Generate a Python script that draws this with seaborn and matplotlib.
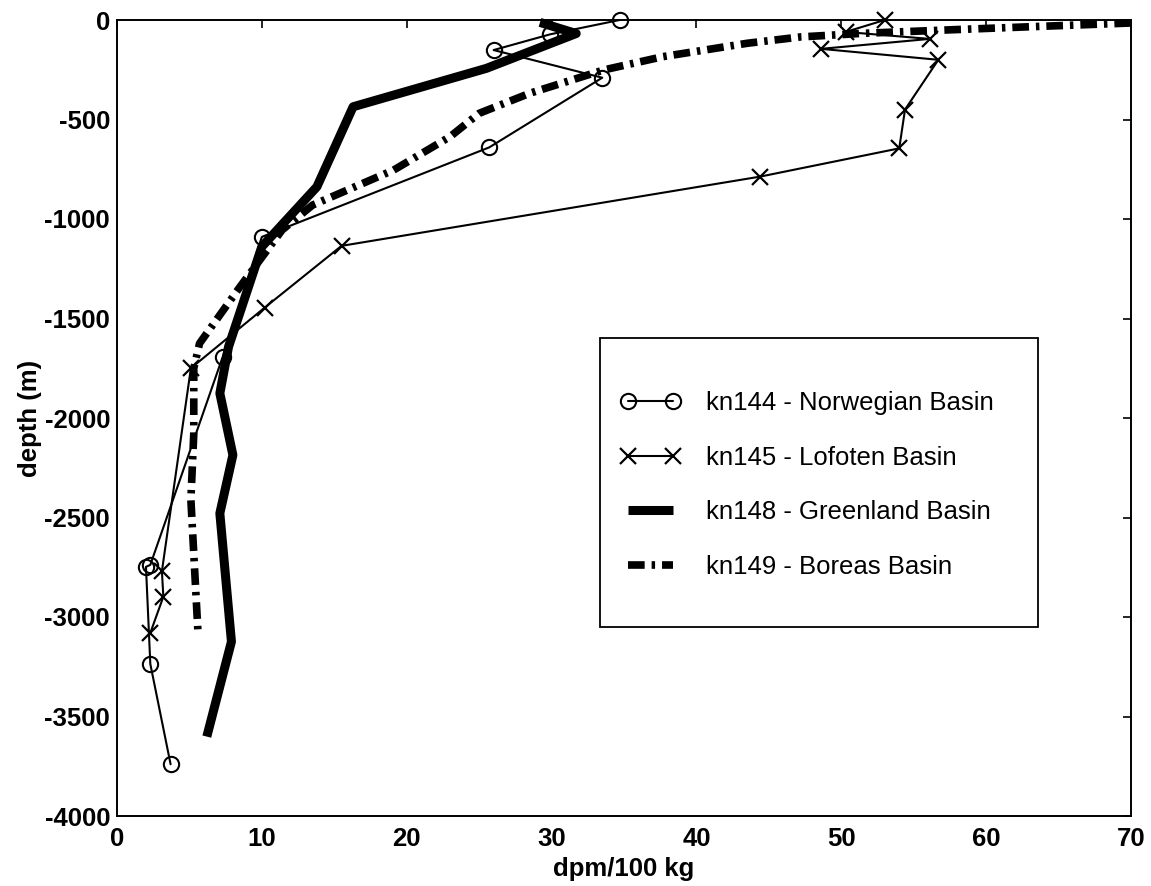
import matplotlib
matplotlib.use("Agg")
import matplotlib.pyplot as plt
import seaborn as sns
from matplotlib.patches import Rectangle

# ---- data ----
kn144_dpm = [34.7, 29.9, 26.0, 33.5, 25.7, 10.0, 7.3, 2.3, 2.0, 2.3, 3.7]
kn144_depth = [0, -72, -151, -290, -640, -1090, -1692, -2738, -2748, -3236, -3740]

kn145_dpm = [53.0, 50.3, 56.1, 48.6, 56.7, 54.4, 54.0, 44.4, 15.5, 10.2, 5.1, 3.1, 3.2, 2.3]
kn145_depth = [0, -60, -95, -145, -200, -450, -645, -787, -1135, -1445, -1750, -2770, -2898, -3080]

kn148_dpm = [29.2, 31.7, 25.5, 16.3, 13.8, 10.0, 7.7, 7.1, 8.0, 7.1, 7.9, 6.2]
kn148_depth = [-12, -68, -243, -436, -838, -1139, -1642, -1876, -2186, -2479, -3124, -3601]

kn149_dpm = [70.0, 63.0, 57.3, 51.5, 47.2, 43.5, 37.7, 33.6, 28.5, 25.0, 23.0,
             19.1, 13.5, 11.4, 8.5, 5.7, 5.3, 5.3, 5.1, 5.6]
kn149_depth = [-15, -34, -50, -67, -85, -117, -184, -251, -368, -469, -586,
               -754, -930, -1055, -1340, -1625, -1750, -2080, -2410, -3090]

labels = ["kn144 - Norwegian Basin", "kn145 - Lofoten Basin",
          "kn148 - Greenland Basin", "kn149 - Boreas Basin"]
x_ticks = list(range(0, 71, 10))
y_ticks = list(range(-4000, 1, 500))

# ---- style ----
sns.set_style("white")
plt.rcParams['font.family'] = ['Liberation Sans', 'DejaVu Sans']
plt.rcParams['lines.scale_dashes'] = False
plt.rcParams['axes.unicode_minus'] = False
plt.rcParams['text.color'] = 'black'
plt.rcParams['axes.labelcolor'] = 'black'
plt.rcParams['xtick.color'] = 'black'
plt.rcParams['ytick.color'] = 'black'

W, H = 1151, 886
fig = plt.figure(figsize=(W / 100, H / 100), dpi=100)
ax = fig.add_axes([117 / W, 1 - 816 / H, 1014 / W, 796 / H])

common = dict(sort=False, estimator=None, ax=ax, color='k', clip_on=False)

sns.lineplot(x=kn144_dpm, y=kn144_depth, lw=1.5, marker='o', markersize=11,
             markerfacecolor='none', markeredgecolor='k', markeredgewidth=1.5,
             label=labels[0], **common)
sns.lineplot(x=kn145_dpm, y=kn145_depth, lw=1.5, marker='x', markersize=12,
             markeredgecolor='k', markeredgewidth=1.6,
             label=labels[1], **common)
sns.lineplot(x=kn148_dpm, y=kn148_depth, lw=6.5, label=labels[2], **common)
sns.lineplot(x=kn149_dpm, y=kn149_depth, lw=5.5, label=labels[3], **common)
ax.lines[2].set_solid_capstyle('butt')
dash_line = ax.lines[3]
dash_line.set_dashes((12, 5, 2.5, 5))
dash_line.set_dash_capstyle('butt')

ax.set_xlim(0, 70)
ax.set_ylim(-4000, 0)
ax.set_xticks(x_ticks)
ax.set_yticks(y_ticks)
ax.tick_params(direction='in', length=6, width=1.2, top=True, right=True,
               labelsize=18.5, colors='black')
ax.tick_params(axis='x', pad=8)
ax.tick_params(axis='y', pad=5)
for lab in ax.get_xticklabels() + ax.get_yticklabels():
    lab.set_fontweight('bold')
for sp in ax.spines.values():
    sp.set_linewidth(1.4)
    sp.set_color('k')

ax.set_xlabel("dpm/100 kg", fontsize=18.5, fontweight='bold', labelpad=4, color='black')
ax.set_ylabel("depth (m)", fontsize=18.5, fontweight='bold', labelpad=2, color='black')

# legend frame
frame = Rectangle((0.4763, 0.2374), 0.432, 0.3631, transform=ax.transAxes,
                  facecolor='white', edgecolor='k', lw=1.3, zorder=5)
ax.add_patch(frame)
handles, labs = ax.get_legend_handles_labels()
leg = ax.legend(handles, labs, loc='center left', bbox_to_anchor=(0.496, 0.4158),
                frameon=False, borderpad=0, borderaxespad=0, handlelength=2.35,
                handletextpad=1.0, labelspacing=1.2, fontsize=18.5, numpoints=2,
                labelcolor='black')
leg.set_zorder(6)

fig.savefig("out.png", dpi=100)
